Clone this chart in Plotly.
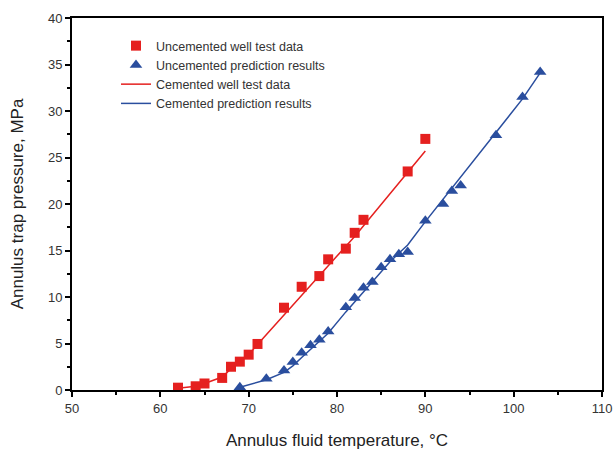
import plotly.graph_objects as go

# Uncemented well test data (red squares)
red_x = [62, 64, 65, 67, 68, 69, 70, 71, 74, 76, 78, 79, 81, 82, 83, 88, 90]
red_y = [0.25, 0.4, 0.7, 1.3, 2.5, 3.05, 3.8, 4.95, 8.85, 11.1, 12.25, 14.05, 15.2, 16.9, 18.3, 23.5, 27.0]

# Uncemented prediction results (blue triangles)
blue_x = [69, 72, 74, 75, 76, 77, 78, 79, 81, 82, 83, 84, 85, 86, 87, 88, 90, 92, 93, 94, 98, 101, 103]
blue_y = [0.3, 1.2, 2.1, 3.0, 4.0, 4.8, 5.4, 6.3, 8.9, 9.9, 11.0, 11.6, 13.2, 14.05, 14.6, 14.85,
          18.2, 20.0, 21.4, 22.0, 27.4, 31.5, 34.2]

# Cemented well test data (red line)
redline_x = [62, 64, 65, 67, 68, 69, 70, 71, 74, 76, 78, 80, 82, 84, 86, 88, 90]
redline_y = [0.2, 0.4, 0.7, 1.4, 2.3, 3.0, 3.8, 4.9, 8.1, 10.2, 12.3, 14.4, 16.5, 18.8, 21.1, 23.4, 25.7]

# Cemented prediction results (blue line)
blueline_x = [69, 72, 74, 75, 76, 77, 78, 79, 81, 83, 85, 86, 87, 88, 90, 92, 94, 98, 101, 103]
blueline_y = [0.3, 1.1, 1.9, 2.6, 3.5, 4.4, 5.3, 6.1, 8.4, 10.6, 12.7, 13.8, 14.7, 15.6, 18.1,
              20.5, 22.8, 27.6, 31.3, 34.1]

RED = "#E5201F"
BLUE = "#2A4E9E"
FONT = "Liberation Sans, Arial"

fig = go.Figure()
fig.add_trace(go.Scatter(x=red_x, y=red_y, mode="markers", name="Uncemented well test data",
                         marker=dict(symbol="square", size=10, color=RED)))
fig.add_trace(go.Scatter(x=blue_x, y=blue_y, mode="markers", name="Uncemented prediction results",
                         marker=dict(symbol="triangle-up", size=11, color=BLUE)))
fig.add_trace(go.Scatter(x=redline_x, y=redline_y, mode="lines", name="Cemented well test data",
                         line=dict(color=RED, width=1.5)))
fig.add_trace(go.Scatter(x=blueline_x, y=blueline_y, mode="lines", name="Cemented prediction results",
                         line=dict(color=BLUE, width=1.5)))

axis_common = dict(showline=True, linecolor="black", linewidth=2, mirror=True,
                   ticks="outside", ticklen=5, tickwidth=2, tickcolor="black",
                   showgrid=False, zeroline=False, automargin=False,
                   tickfont=dict(family=FONT, size=13, color="#333"))

fig.update_xaxes(range=[50, 110], dtick=10, tick0=50,
                 minor=dict(dtick=5, ticks="outside", ticklen=3, tickwidth=2, tickcolor="black"),
                 title=dict(text="Annulus fluid temperature, °C", standoff=20,
                            font=dict(family=FONT, size=17, color="#222")),
                 **axis_common)
fig.update_yaxes(range=[0, 40], dtick=5, tick0=0,
                 minor=dict(dtick=2.5, ticks="outside", ticklen=3, tickwidth=2, tickcolor="black"),
                 title=dict(text="Annulus trap pressure, MPa", standoff=20,
                            font=dict(family=FONT, size=17, color="#222")),
                 **axis_common)

fig.update_layout(
    width=614, height=452,
    margin=dict(l=72, r=12, t=18, b=62),
    plot_bgcolor="white", paper_bgcolor="white",
    legend=dict(x=0.083, y=0.965, xanchor="left", yanchor="top",
                bgcolor="rgba(0,0,0,0)", tracegroupgap=0, itemwidth=30,
                font=dict(family=FONT, size=12.5, color="#333")),
)

fig.write_html("out.html", config={"displayModeBar": False},
               post_script="document.body.style.margin='0';document.body.style.overflow='hidden';")
